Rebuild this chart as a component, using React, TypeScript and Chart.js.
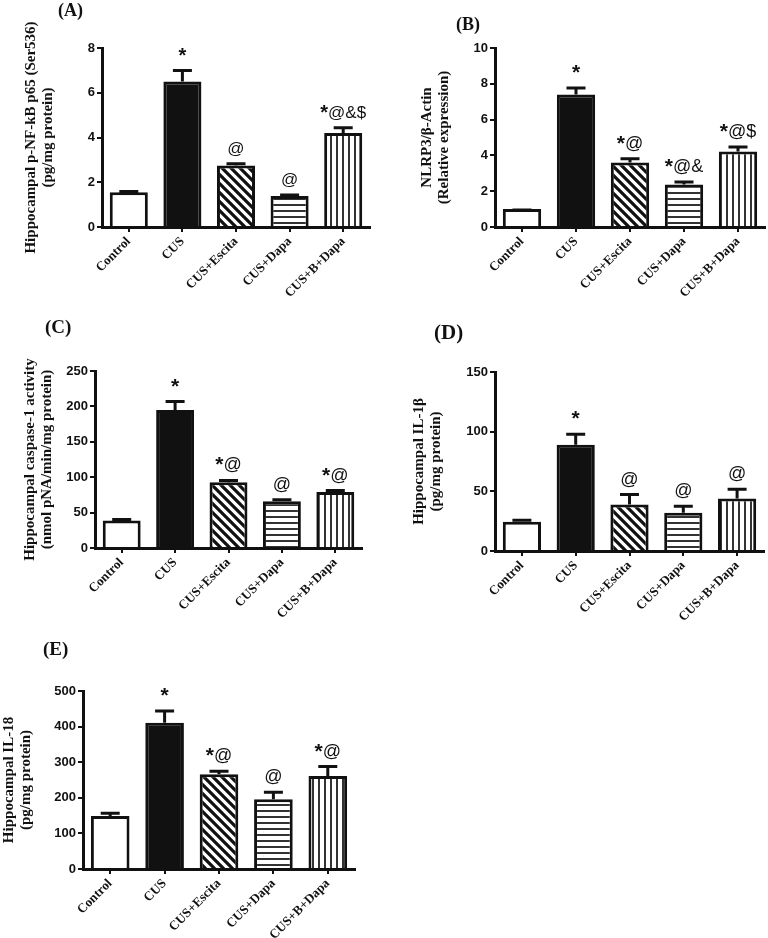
import React, { useEffect, useRef } from 'react';
import { Chart, registerables } from 'chart.js';

Chart.register(...registerables);

// ---------- data ----------
const categories = ['Control', 'CUS', 'CUS+Escita', 'CUS+Dapa', 'CUS+B+Dapa'];

// (A) p-NF-kB p65
const nfkbValues = [1.55, 6.5, 2.75, 1.38, 4.2];
const nfkbErrors = [0.1, 0.56, 0.14, 0.12, 0.3];
const nfkbMarks = ['', '*', '@', '@', '*@&$'];
const nfkbTicks = [0, 2, 4, 6, 8];

// (B) NLRP3
const nlrp3Values = [1.0, 7.4, 3.6, 2.38, 4.22];
const nlrp3Errors = [0.04, 0.45, 0.3, 0.22, 0.33];
const nlrp3Marks = ['', '*', '*@', '*@&', '*@$'];
const nlrp3Ticks = [0, 2, 4, 6, 8, 10];

// (C) caspase-1
const caspValues = [39, 195, 93, 66, 79];
const caspErrors = [3.5, 14, 4.5, 4.3, 4.2];
const caspMarks = ['', '*', '*@', '@', '*@'];
const caspTicks = [0, 50, 100, 150, 200, 250];

// (D) IL-1β
const il1bValues = [24.5, 89, 39, 32, 44];
const il1bErrors = [2.6, 10, 9.5, 6.8, 9];
const il1bMarks = ['', '*', '@', '@', '@'];
const il1bTicks = [0, 50, 100, 150];

// (E) IL-18
const il18Values = [149, 411, 266, 196, 261];
const il18Errors = [12, 37, 13, 24, 31];
const il18Marks = ['', '*', '*@', '@', '*@'];
const il18Ticks = [0, 100, 200, 300, 400, 500];

// ---------- layout / style ----------
const INK = '#111111';
const SERIF = '"Liberation Serif", "Times New Roman", serif';
const SANS = '"Liberation Sans", Arial, sans-serif';

type Spec = {
  id: string;
  label: string;
  labelLeft: number;
  labelTop: number;
  labelSize: number;
  left: number;
  top: number;
  width: number;
  height: number;
  areaLeft: number;
  areaRight: number;
  areaTop: number;
  areaBottom: number;
  values: number[];
  errors: number[];
  marks: string[];
  ticks: number[];
  title: string[];
  titlePad: number;
  tickSize: number;
  markSize: number;
};

const panels: Spec[] = [
  {
    id: 'A', label: '(A)', labelLeft: 58, labelTop: 1, labelSize: 18,
    left: 0, top: 0, width: 384, height: 300,
    areaLeft: 102, areaRight: 370, areaTop: 48, areaBottom: 227,
    values: nfkbValues, errors: nfkbErrors, marks: nfkbMarks, ticks: nfkbTicks,
    title: ['Hippocampal p-NF-kB p65 (Ser536)', '(pg/mg protein)'], titlePad: 22,
    tickSize: 13, markSize: 17,
  },
  {
    id: 'B', label: '(B)', labelLeft: 456, labelTop: 15, labelSize: 18,
    left: 384, top: 0, width: 384, height: 300,
    areaLeft: 111, areaRight: 381, areaTop: 48, areaBottom: 227,
    values: nlrp3Values, errors: nlrp3Errors, marks: nlrp3Marks, ticks: nlrp3Ticks,
    title: ['NLRP3/β-Actin', '(Relative expression)'], titlePad: 34,
    tickSize: 13, markSize: 18,
  },
  {
    id: 'C', label: '(C)', labelLeft: 45, labelTop: 317, labelSize: 19,
    left: 0, top: 300, width: 384, height: 340,
    areaLeft: 95, areaRight: 362, areaTop: 71, areaBottom: 248,
    values: caspValues, errors: caspErrors, marks: caspMarks, ticks: caspTicks,
    title: ['Hippocampal caspase-1 activity', '(nmol pNA/min/mg protein)'], titlePad: 21,
    tickSize: 13, markSize: 18,
  },
  {
    id: 'D', label: '(D)', labelLeft: 434, labelTop: 322, labelSize: 21,
    left: 384, top: 300, width: 384, height: 340,
    areaLeft: 111, areaRight: 380, areaTop: 72, areaBottom: 251,
    values: il1bValues, errors: il1bErrors, marks: il1bMarks, ticks: il1bTicks,
    title: ['Hippocampal IL-1β', '(pg/mg protein)'], titlePad: 26,
    tickSize: 13, markSize: 18,
  },
  {
    id: 'E', label: '(E)', labelLeft: 43, labelTop: 639, labelSize: 19,
    left: 0, top: 600, width: 384, height: 338,
    areaLeft: 83, areaRight: 355, areaTop: 91, areaBottom: 269,
    values: il18Values, errors: il18Errors, marks: il18Marks, ticks: il18Ticks,
    title: ['Hippocampal IL-18', '(pg/mg protein)'], titlePad: 0,
    tickSize: 13, markSize: 18,
  },
];

function makePattern(ctx: CanvasRenderingContext2D, kind: 'diag' | 'h' | 'v'): CanvasPattern | string {
  const c = document.createElement('canvas');
  const g = c.getContext('2d');
  if (!g) return '#ffffff';
  if (kind === 'diag') {
    const s = 9;
    c.width = s;
    c.height = s;
    g.fillStyle = '#ffffff';
    g.fillRect(0, 0, s, s);
    g.strokeStyle = INK;
    g.lineWidth = 3.2;
    g.beginPath();
    for (const o of [-s, 0, s]) {
      g.moveTo(o - 2, -2);
      g.lineTo(o + s + 2, s + 2);
    }
    g.stroke();
  } else if (kind === 'h') {
    c.width = 6;
    c.height = 6;
    g.fillStyle = '#ffffff';
    g.fillRect(0, 0, 6, 6);
    g.fillStyle = '#333333';
    g.fillRect(0, 0, 6, 2);
  } else {
    c.width = 6;
    c.height = 6;
    g.fillStyle = '#ffffff';
    g.fillRect(0, 0, 6, 6);
    g.fillStyle = '#333333';
    g.fillRect(0, 0, 2, 6);
  }
  return ctx.createPattern(c, 'repeat') || '#ffffff';
}

function Panel({ spec }: { spec: Spec }) {
  const ref = useRef<HTMLCanvasElement | null>(null);

  useEffect(() => {
    const canvas = ref.current;
    if (!canvas) return;
    const ctx = canvas.getContext('2d');
    if (!ctx) return;
    const fills = [
      '#ffffff',
      INK,
      makePattern(ctx, 'diag'),
      makePattern(ctx, 'h'),
      makePattern(ctx, 'v'),
    ];
    const yMax = spec.ticks[spec.ticks.length - 1];
    const yStep = spec.ticks[1] - spec.ticks[0];

    const fontFor = (ch: string) =>
      ch === '*' ? `bold ${spec.markSize + 3}px ${SANS}` : `${spec.markSize}px ${SANS}`;

    const errorPlugin = {
      id: 'errorBars' + spec.id,
      afterDatasetsDraw(chart: any) {
        const c = chart.ctx as CanvasRenderingContext2D;
        const meta = chart.getDatasetMeta(0);
        const yScale = chart.scales.y;
        c.save();
        meta.data.forEach((bar: any, i: number) => {
          const x = bar.x;
          const topPx = yScale.getPixelForValue(spec.values[i]);
          const capPx = yScale.getPixelForValue(spec.values[i] + spec.errors[i]) + 1.5;
          c.strokeStyle = INK;
          c.lineWidth = 3;
          c.lineCap = 'butt';
          c.beginPath();
          c.moveTo(x, topPx);
          c.lineTo(x, capPx);
          c.moveTo(x - 9.5, capPx);
          c.lineTo(x + 9.5, capPx);
          c.stroke();
          const m = spec.marks[i];
          if (m) {
            c.fillStyle = INK;
            c.textAlign = 'left';
            c.textBaseline = 'alphabetic';
            const chars = Array.from(m);
            let total = 0;
            const widths = chars.map((ch) => {
              c.font = fontFor(ch);
              const w = c.measureText(ch).width;
              total += w;
              return w;
            });
            let cx = x - total / 2;
            const base = capPx - 10;
            chars.forEach((ch, k) => {
              c.font = fontFor(ch);
              c.fillText(ch, cx, ch === '*' ? base + 1 : base);
              cx += widths[k];
            });
          }
        });
        c.restore();
      },
    };

    const chart = new Chart(canvas, {
      type: 'bar',
      data: {
        labels: categories,
        datasets: [
          {
            data: spec.values,
            backgroundColor: fills as any,
            borderColor: INK,
            borderWidth: 3,
            barPercentage: 0.71,
            categoryPercentage: 1,
          },
        ],
      },
      options: {
        responsive: false,
        animation: false,
        devicePixelRatio: 1,
        events: [],
        layout: {
          padding: {
            left: 0,
            top: spec.areaTop,
            right: spec.width - spec.areaRight,
            bottom: 0,
          },
        },
        plugins: {
          legend: { display: false },
          tooltip: { enabled: false },
          title: { display: false },
        },
        scales: {
          x: {
            grid: {
              offset: false,
              drawOnChartArea: false,
              drawTicks: true,
              tickLength: 5,
              color: INK,
              lineWidth: 2,
            },
            border: { display: true, color: INK, width: 3 },
            ticks: {
              autoSkip: false,
              minRotation: 45,
              maxRotation: 45,
              padding: 2,
              color: INK,
              font: { family: SERIF, size: 13, weight: 'bold' },
            },
            afterFit: (s: any) => {
              s.height = spec.height - spec.areaBottom;
            },
          },
          y: {
            min: 0,
            max: yMax,
            ticks: {
              stepSize: yStep,
              padding: 2,
              color: INK,
              font: { family: SANS, size: spec.tickSize, weight: 'bold' },
            },
            grid: {
              drawOnChartArea: false,
              drawTicks: true,
              tickLength: 5,
              color: INK,
              lineWidth: 2,
            },
            border: { display: true, color: INK, width: 3 },
            title: {
              display: true,
              text: spec.title,
              color: INK,
              font: { family: SERIF, size: 15, weight: 'bold', lineHeight: 1.15 },
              padding: { top: spec.titlePad, bottom: 0 },
            },
            afterFit: (s: any) => {
              s.width = spec.areaLeft;
            },
          },
        },
      } as any,
      plugins: [errorPlugin],
    });
    return () => chart.destroy();
  }, [spec]);

  return (
    <canvas
      ref={ref}
      width={spec.width}
      height={spec.height}
      style={{
        position: 'absolute',
        left: spec.left,
        top: spec.top,
        width: spec.width,
        height: spec.height,
      }}
    />
  );
}

export default function App() {
  return (
    <div
      style={{
        position: 'absolute',
        left: 0,
        top: 0,
        width: 768,
        height: 938,
        background: '#ffffff',
        overflow: 'hidden',
      }}
    >
      {panels.map((p) => (
        <Panel key={p.id} spec={p} />
      ))}
      {panels.map((p) => (
        <div
          key={'lbl' + p.id}
          style={{
            position: 'absolute',
            left: p.labelLeft,
            top: p.labelTop,
            fontFamily: SERIF,
            fontWeight: 'bold',
            fontSize: p.labelSize,
            lineHeight: 1,
            color: INK,
            whiteSpace: 'nowrap',
          }}
        >
          {p.label}
        </div>
      ))}
    </div>
  );
}
